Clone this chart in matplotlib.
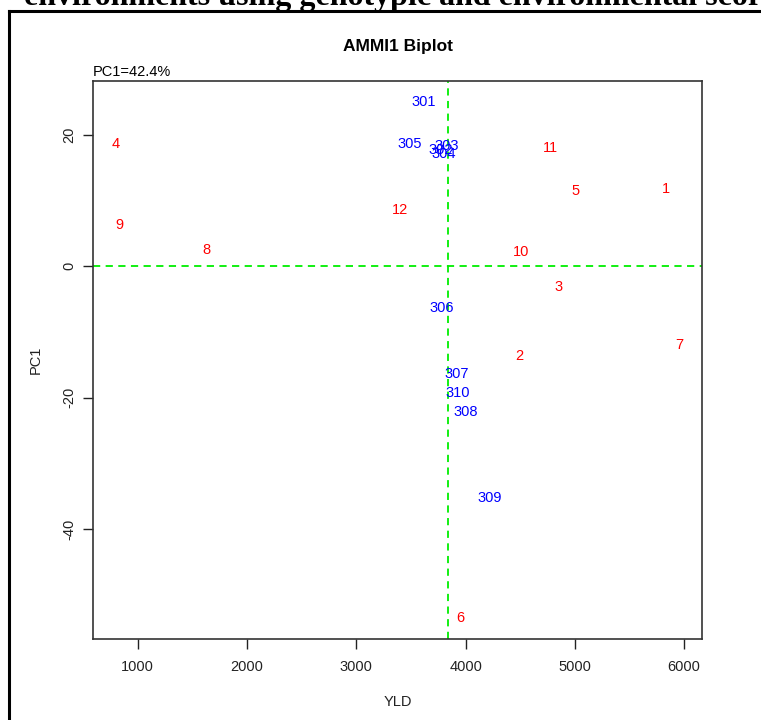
import matplotlib
matplotlib.use("Agg")
import matplotlib.pyplot as plt
from matplotlib.lines import Line2D

plt.rcParams['font.family'] = ['Liberation Sans', 'DejaVu Sans']
plt.rcParams['axes.unicode_minus'] = False

# Environments (red)
env_labels = ['1', '2', '3', '4', '5', '6', '7', '8', '9', '10', '11', '12']
env_yld = [5832, 4495, 4853, 797, 5008, 3955, 5957, 1629, 828, 4505, 4779, 3397]
env_pc1 = [11.8, -13.6, -3.2, 18.6, 11.5, -53.5, -12.0, 2.4, 6.3, 2.1, 17.9, 8.6]

# Genotypes (blue)
gen_labels = ['301', '302', '303', '304', '305', '306', '307', '308', '309', '310']
gen_yld = [3616, 3772, 3827, 3800, 3488, 3781, 3918, 4000, 4220, 3927]
gen_pc1 = [25.0, 17.7, 18.3, 17.1, 18.6, -6.4, -16.4, -22.1, -35.2, -19.2]

mean_yld = 3843
pc1_pct = 42.4

W, H = 761, 720
fig = plt.figure(figsize=(W / 100, H / 100), dpi=100)
ax = fig.add_axes([93 / W, 1 - 639 / H, (702 - 93) / W, (639 - 81) / H])

for lab, x, y in zip(env_labels, env_yld, env_pc1):
    ax.text(x, y, lab, color='#FF0000', fontsize=10.5, ha='center', va='center')
for lab, x, y in zip(gen_labels, gen_yld, gen_pc1):
    ax.text(x, y, lab, color='#0000FF', fontsize=10.5, ha='center', va='center')

ax.axhline(0, color='#00EE00', lw=1.3, ls=(0, (4, 3)))
ax.axvline(mean_yld, color='#00EE00', lw=1.3, ls=(0, (4, 3)))

allx = env_yld + gen_yld
ally = env_pc1 + gen_pc1
dx = (max(allx) - min(allx)) * 0.04
dy = (max(ally) - min(ally)) * 0.04
ax.set_xlim(min(allx) - dx, max(allx) + dx)
ax.set_ylim(min(ally) - dy, max(ally) + dy)

ax.set_xticks([1000, 2000, 3000, 4000, 5000, 6000])
ax.set_yticks([-40, -20, 0, 20])
ax.tick_params(axis='both', direction='out', length=7, width=1, labelsize=10.5,
               color='#222222', labelcolor='#222222')
ax.tick_params(axis='x', pad=8)
ax.tick_params(axis='y', pad=5)
for lbl in ax.get_yticklabels():
    lbl.set_rotation(90)
    lbl.set_va('center')
for s in ax.spines.values():
    s.set_linewidth(1.2)
    s.set_color('#333333')

ax.set_xlabel('YLD', fontsize=10.5, labelpad=15, color='#222222')
ax.set_ylabel('PC1', fontsize=10.5, labelpad=14, color='#222222')

fig.text(398 / W, 1 - 47 / H, 'AMMI1 Biplot', fontsize=12.5, fontweight='bold',
         ha='center', va='center')
ax.text(0.0, 1.004, 'PC1=%.1f%%' % pc1_pct, transform=ax.transAxes,
        fontsize=10.5, ha='left', va='bottom')

# page frame and cropped heading
fig.add_artist(Line2D([9 / W, 9 / W], [0, 1 - 11 / H], transform=fig.transFigure,
                      color='black', lw=2.2))
fig.add_artist(Line2D([9 / W, 1], [1 - 11 / H, 1 - 11 / H], transform=fig.transFigure,
                      color='black', lw=2.2))
fig.text(24 / W, 1 - 5 / H, 'environments using genotypic and environmental scores',
         fontsize=23, fontweight='bold', family=['Liberation Serif'],
         ha='left', va='baseline')

fig.savefig('out.png', dpi=100)
